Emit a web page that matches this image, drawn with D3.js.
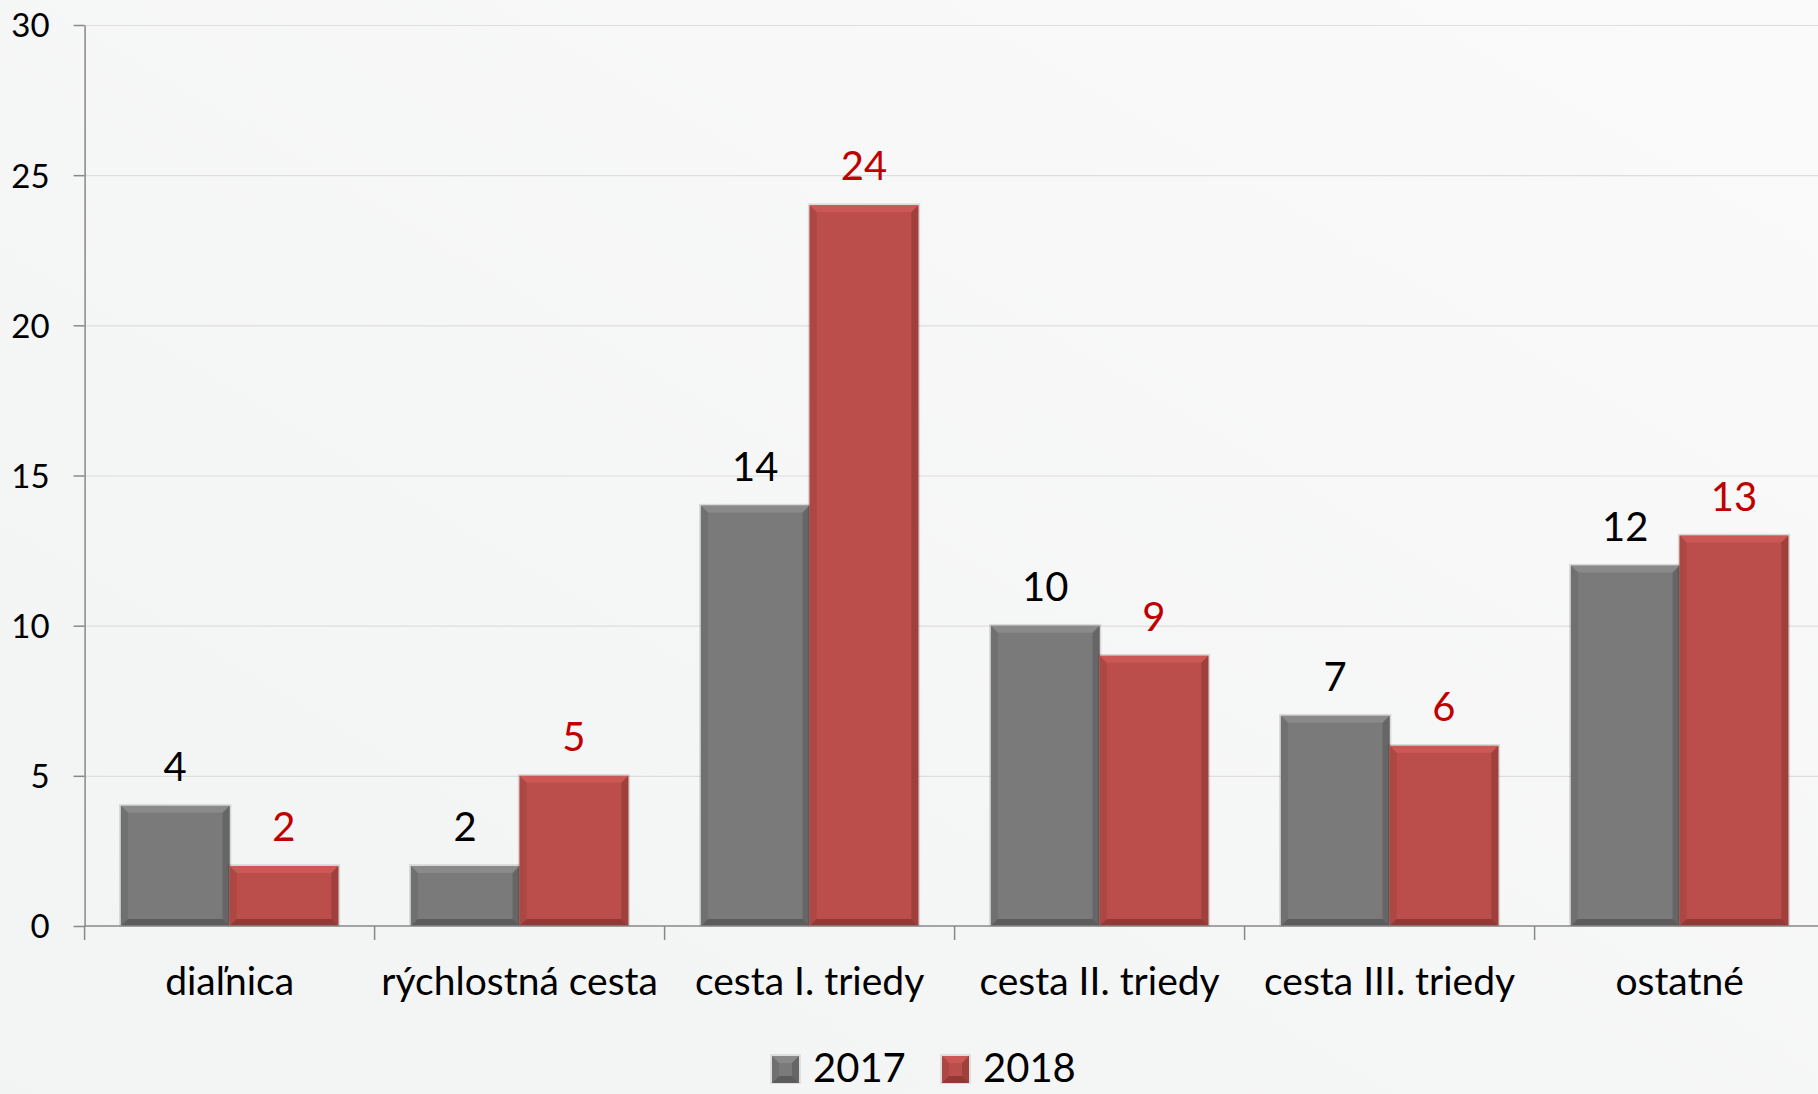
<!DOCTYPE html>
<html>
<head>
<meta charset="utf-8">
<script src="https://cdn.jsdelivr.net/npm/d3@7"></script>
<style>
  html, body { margin: 0; padding: 0; overflow: hidden; }
  svg { display: block; font-family: Lato, "Noto Sans", sans-serif; }
</style>
</head>
<body>
<svg id="chart" width="1818" height="1094"></svg>
<script>
// data
const categories = ["diaľnica", "rýchlostná cesta", "cesta I. triedy", "cesta II. triedy", "cesta III. triedy", "ostatné"];
const series = ["2017", "2018"];
const values2017 = [4, 2, 14, 10, 7, 12];
const values2018 = [2, 5, 24, 9, 6, 13];
const yTicks = [0, 5, 10, 15, 20, 25, 30];

const W = 1818, H = 1094;
const margin = {top: 25, left: 84.6, bottom: 168};
const plotW = 6 * 290;
const plotBottom = 926;

const svg = d3.select("#chart");

// background gradient
const defs = svg.append("defs");
const bg = defs.append("linearGradient").attr("id", "bg")
  .attr("x1", "0").attr("y1", "1").attr("x2", "1").attr("y2", "0");
bg.append("stop").attr("offset", "0").attr("stop-color", "#f2f3f3");
bg.append("stop").attr("offset", "1").attr("stop-color", "#fafafa");
svg.append("rect").attr("width", W).attr("height", H).attr("fill", "url(#bg)");

const x = d3.scaleBand()
  .domain(categories)
  .range([margin.left, margin.left + plotW])
  .paddingInner(0.25)
  .paddingOuter(0.125);

const xs = d3.scaleBand()
  .domain(series)
  .range([0, x.bandwidth()]);

const y = d3.scaleLinear()
  .domain([0, 30])
  .range([plotBottom, margin.top]);

// grid lines
svg.append("g")
  .attr("transform", "translate(" + margin.left + ",0)")
  .call(d3.axisLeft(y).tickValues(yTicks.slice(1)).tickSize(-plotW).tickFormat(""))
  .call(g => g.select(".domain").remove())
  .call(g => g.selectAll("line").attr("stroke", "#dedede").attr("stroke-width", 1.2));

// y axis
svg.append("g")
  .attr("transform", "translate(" + margin.left + ",0)")
  .call(d3.axisLeft(y).tickValues(yTicks).tickSize(11).tickSizeOuter(0).tickPadding(24))
  .call(g => g.select(".domain").attr("stroke", "#888").attr("stroke-width", 1.5))
  .call(g => g.selectAll("line").attr("stroke", "#888").attr("stroke-width", 1.5))
  .call(g => g.selectAll("text").attr("font-size", 33).attr("fill", "#000")
      .attr("font-family", "Lato, sans-serif").attr("dy", "0.36em"));

// bars with bevel
const colors = {
  "2017": {face: "#7a7a7a", top: "#8a8a8a", left: "#707070", right: "#666666", bottom: "#5c5c5c", label: "#000000"},
  "2018": {face: "#bb4e4b", top: "#cc5855", left: "#ad4744", right: "#a0403d", bottom: "#923835", label: "#c00000"}
};

function bevelBar(g, x0, y0, w, h, c) {
  const b = Math.min(7, h / 2, w / 2);
  g.append("rect").attr("x", x0 - 1).attr("y", y0 - 1).attr("width", w + 2).attr("height", h + 1)
    .attr("fill", "none").attr("stroke", "rgba(0,0,0,0.12)").attr("stroke-width", 1.5);
  g.append("rect").attr("x", x0).attr("y", y0).attr("width", w).attr("height", h).attr("fill", c.face);
  const x1 = x0 + w, y1 = y0 + h;
  const poly = (pts, fill) => g.append("polygon")
    .attr("points", pts.map(p => p.join(",")).join(" ")).attr("fill", fill);
  poly([[x0, y0], [x1, y0], [x1 - b, y0 + b], [x0 + b, y0 + b]], c.top);
  poly([[x0, y0], [x0 + b, y0 + b], [x0 + b, y1 - b], [x0, y1]], c.left);
  poly([[x1, y0], [x1, y1], [x1 - b, y1 - b], [x1 - b, y0 + b]], c.right);
  poly([[x0, y1], [x0 + b, y1 - b], [x1 - b, y1 - b], [x1, y1]], c.bottom);
}

const barsG = svg.append("g");
const dataBySeries = {"2017": values2017, "2018": values2018};
series.forEach(s => {
  dataBySeries[s].forEach((v, i) => {
    const cat = categories[i];
    const bx = x(cat) + xs(s);
    const by = y(v);
    bevelBar(barsG, bx, by, xs.bandwidth(), y(0) - by, colors[s]);
  });
});

// x axis line and boundary ticks
const xAxisG = svg.append("g");
xAxisG.append("line")
  .attr("x1", margin.left).attr("x2", margin.left + plotW)
  .attr("y1", y(0)).attr("y2", y(0))
  .attr("stroke", "#888").attr("stroke-width", 1.5);
const bounds = categories.map(c => x(c) - x.step() * 0.125).concat([margin.left + plotW]);
xAxisG.selectAll(".btick").data(bounds).join("line")
  .attr("x1", d => d).attr("x2", d => d)
  .attr("y1", y(0)).attr("y2", y(0) + 14)
  .attr("stroke", "#888").attr("stroke-width", 1.5);

// category labels
svg.append("g")
  .attr("transform", "translate(0," + y(0) + ")")
  .call(d3.axisBottom(x).tickSize(0).tickPadding(0))
  .call(g => g.select(".domain").remove())
  .call(g => g.selectAll("text").attr("font-size", 39).attr("fill", "#000")
      .attr("font-family", "Lato, sans-serif").attr("dy", "0").attr("y", 69));

// value labels
const labelsG = svg.append("g");
series.forEach(s => {
  labelsG.selectAll(".lbl" + s).data(dataBySeries[s]).join("text")
    .attr("x", (d, i) => x(categories[i]) + xs(s) + xs.bandwidth() / 2)
    .attr("y", d => y(d) - 25)
    .attr("text-anchor", "middle")
    .attr("font-size", 40)
    .attr("fill", colors[s].label)
    .text(d => d);
});

// legend
const legend = svg.append("g");
const legendItems = [{s: "2017", x: 772}, {s: "2018", x: 942}];
legendItems.forEach(it => {
  bevelBar(legend, it.x, 1056, 27, 27, colors[it.s]);
  legend.append("text").attr("x", it.x + 41).attr("y", 1082)
    .attr("font-size", 40).attr("fill", "#000").text(it.s);
});
</script>
</body>
</html>
